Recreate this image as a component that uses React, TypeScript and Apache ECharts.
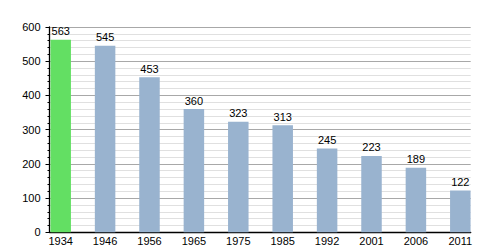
import React, { useEffect, useRef } from "react";
import * as echarts from "echarts";

const years = ["1934", "1946", "1956", "1965", "1975", "1985", "1992", "2001", "2006", "2011"];
const population = [563, 545, 453, 360, 323, 313, 245, 223, 189, 122];
const highlightIndex = 0;

export default function App() {
  const ref = useRef<HTMLDivElement>(null);
  useEffect(() => {
    if (!ref.current) return;
    const chart = echarts.init(ref.current, null, { renderer: "svg" });
    const font = "Liberation Sans, Arial, sans-serif";
    chart.setOption({
      animation: false,
      grid: { left: 49.5, right: 29.3, top: 27, bottom: 17.7, containLabel: false },
      xAxis: {
        type: "value",
        min: -0.252,
        max: 9.234,
        axisLine: { show: true, onZero: false, lineStyle: { color: "#000", width: 1.3 } },
        axisTick: { show: false },
        splitLine: { show: false },
        axisLabel: {
          customValues: years.map((_, i) => i),
          formatter: (v: number) => years[Math.round(v)] ?? "",
          color: "#000",
          fontSize: 11,
          fontFamily: font,
          margin: 3,
        },
      },
      yAxis: {
        type: "value",
        min: 0,
        max: 600,
        interval: 100,
        axisLine: { show: true, onZero: false, lineStyle: { color: "#000", width: 1.3 } },
        axisTick: { show: true, length: 4, lineStyle: { color: "#000" } },
        minorTick: { show: true, splitNumber: 5, length: 2, lineStyle: { color: "#000" } },
        splitLine: { show: true, lineStyle: { color: "#a8a8a8", width: 1 } },
        minorSplitLine: { show: true, lineStyle: { color: "#e0e0e0", width: 1 } },
        axisLabel: { color: "#000", fontSize: 11, fontFamily: font, margin: 9 },
      },
      series: [
        {
          type: "bar",
          barWidth: 20.5,
          data: population.map((v, i) => ({
            value: [i, v],
            itemStyle: { color: i === highlightIndex ? "#63df63" : "#99b3cf" },
          })),
          label: {
            show: true,
            position: "top",
            distance: 3,
            color: "#000",
            fontSize: 11,
            fontFamily: font,
            formatter: (p: any) => String(p.value[1]),
          },
        },
      ],
    });
    return () => chart.dispose();
  }, []);
  return <div ref={ref} style={{ width: 500, height: 250, position: "absolute", left: 0, top: 0 }} />;
}
